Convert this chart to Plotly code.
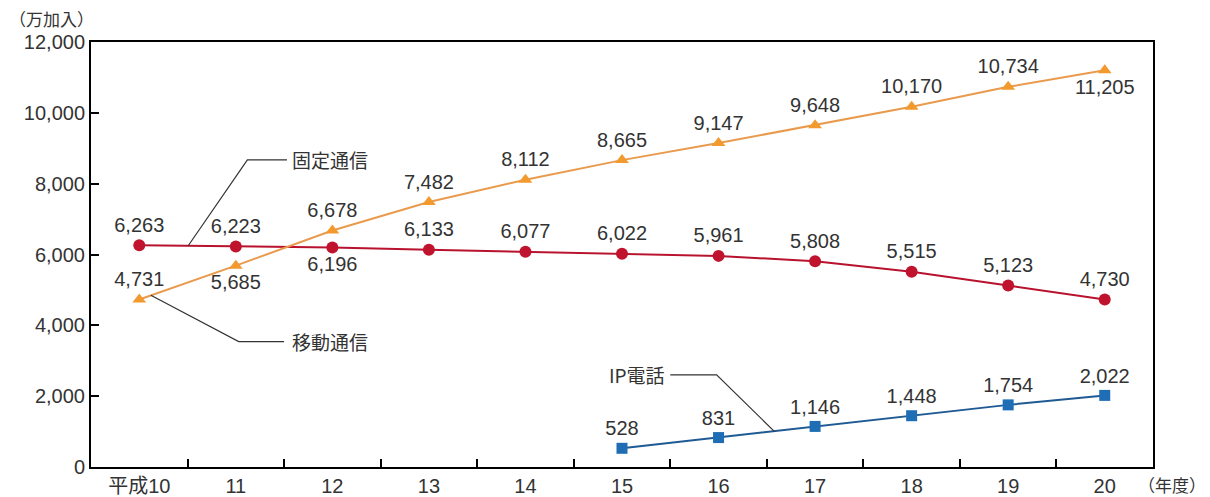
import plotly.graph_objects as go

years = ["平成10", "11", "12", "13", "14", "15", "16", "17", "18", "19", "20"]
fixed = [6263, 6223, 6196, 6133, 6077, 6022, 5961, 5808, 5515, 5123, 4730]
mobile = [4731, 5685, 6678, 7482, 8112, 8665, 9147, 9648, 10170, 10734, 11205]
ip_years = ["15", "16", "17", "18", "19", "20"]
ip = [528, 831, 1146, 1448, 1754, 2022]

fixed_pos = ["top center"] * 11
fixed_pos[2] = "bottom center"
mobile_pos = ["top center"] * 11
mobile_pos[1] = "bottom center"
mobile_pos[10] = "bottom center"

NUM_FONT = dict(family="Liberation Sans, Arial, sans-serif", size=20, color="#333333")
JP_FONT = dict(family="Noto Sans CJK JP, sans-serif", size=19, color="#333333")
UNIT_FONT = dict(family="Noto Sans CJK JP, sans-serif", size=17, color="#333333")

fig = go.Figure()
fig.add_trace(go.Scatter(
    x=years, y=fixed, mode="lines+markers+text",
    line=dict(color="#b8122e", width=2),
    marker=dict(symbol="circle", size=12, color="#c0142e"),
    text=[f"{v:,}" for v in fixed], textposition=fixed_pos,
    textfont=NUM_FONT, cliponaxis=False, showlegend=False))
fig.add_trace(go.Scatter(
    x=years, y=mobile, mode="lines+markers+text",
    line=dict(color="#e99a4c", width=2),
    marker=dict(symbol="triangle-up", size=12, color="#f29a2e"),
    text=[f"{v:,}" for v in mobile], textposition=mobile_pos,
    textfont=NUM_FONT, cliponaxis=False, showlegend=False))
fig.add_trace(go.Scatter(
    x=ip_years, y=ip, mode="lines+markers+text",
    line=dict(color="#1f5a94", width=2),
    marker=dict(symbol="square", size=11, color="#1f6db5"),
    text=[f"{v:,}" for v in ip], textposition="top center",
    textfont=NUM_FONT, cliponaxis=False, showlegend=False))

# callout lines (category index units on x)
callouts = [
    ([0.505, 1.12, 1.53], [6240, 8670, 8670], "固定通信", 1.56, 8670),
    ([0.12, 1.03, 1.50], [4850, 3540, 3540], "移動通信", 1.56, 3540),
    ([6.58, 5.98, 5.50], [1000, 2600, 2600], "IP電話", 5.47, 2600),
]
for xs, ys, label, tx, ty in callouts:
    fig.add_trace(go.Scatter(x=xs, y=ys, mode="lines", xaxis="x2",
                             line=dict(color="#333333", width=1.2),
                             hoverinfo="skip", showlegend=False))
    fig.add_annotation(x=tx, y=ty, xref="x2", yref="y", text=label, showarrow=False,
                       xanchor="left" if label != "IP電話" else "right",
                       font=JP_FONT)

fig.add_annotation(x=-0.079, y=1.0, xref="paper", yref="paper", text="（万加入）",
                   showarrow=False, xanchor="left", yanchor="middle",
                   yshift=24, font=UNIT_FONT)
fig.add_annotation(x=0.984, y=0.0, xref="paper", yref="paper", text="（年度）",
                   showarrow=False, xanchor="left", yanchor="middle",
                   yshift=-17, font=UNIT_FONT)

fig.update_layout(
    width=1210, height=497,
    margin=dict(l=91, r=57, t=42, b=30, autoexpand=False),
    paper_bgcolor="white", plot_bgcolor="white",
    xaxis=dict(type="category", categoryorder="array", categoryarray=years,
               range=[-0.5, 10.5], tickson="boundaries", ticks="inside",
               ticklen=8, tickwidth=2, tickcolor="black", automargin=False,
               showline=True, linecolor="black", linewidth=2, mirror=True,
               showgrid=False, zeroline=False,
               tickfont=dict(family="Liberation Sans, Noto Sans CJK JP, sans-serif", size=20, color="#333333")),
    xaxis2=dict(overlaying="x", range=[-0.5, 10.5], visible=False, showgrid=False),
    yaxis=dict(range=[0, 12000], dtick=2000, tickformat=",d", ticks="inside",
               ticklen=8, tickwidth=2, tickcolor="black", automargin=False,
               showline=True, linecolor="black", linewidth=2, mirror=True,
               showgrid=False, zeroline=False,
               tickfont=NUM_FONT),
)

fig.write_html("out.html")
